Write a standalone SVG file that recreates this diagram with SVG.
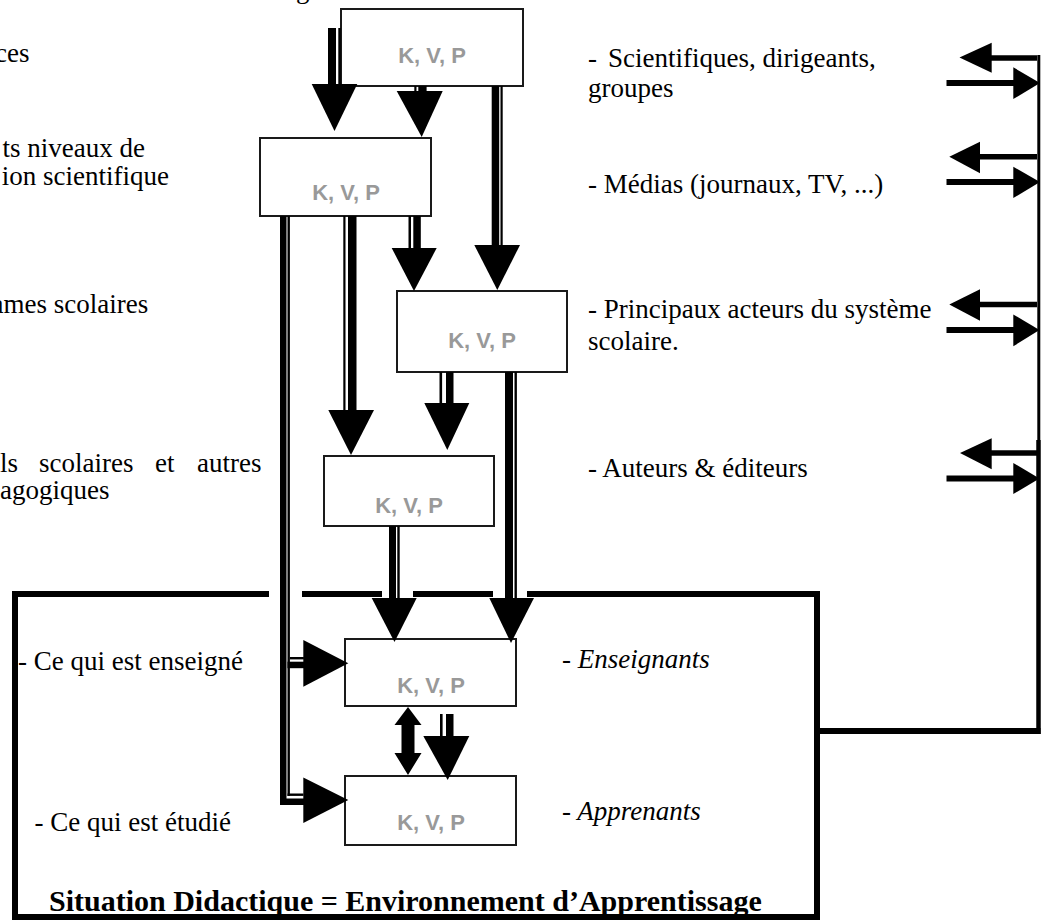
<svg xmlns="http://www.w3.org/2000/svg" width="1041" height="921" viewBox="0 0 1041 921">
<style>
.box{fill:#fff;stroke:#1a1a1a;stroke-width:2}
.kvp{font-family:"Liberation Sans",Arial,sans-serif;font-weight:bold;font-size:22px;fill:#999;text-anchor:middle}
.t{font-family:"Liberation Serif","Times New Roman",serif;font-size:27px;fill:#000}
.it{font-style:italic}
.title{font-family:"Liberation Serif","Times New Roman",serif;font-size:30px;font-weight:bold;fill:#000}
.frame{fill:none;stroke:#000;stroke-width:6;stroke-linejoin:miter}
.k{fill:#000}
.ln{stroke:#000;fill:none}
</style>
<rect width="1041" height="921" fill="#fff"/>

<g id="situation">
  <path class="frame" d="M269 594 H15 V917 H817 V594 H527"/>
  <path class="frame" d="M302 594 H382 M413 594 H493"/>
  <text class="title" x="49" y="911">Situation Didactique = Environnement d’Apprentissage</text>
</g>

<g id="labels-left">
  <text class="t" x="296" y="-2">g</text>
  <text class="t" x="-5" y="62">ces</text>
  <text class="t" x="2.5" y="157">ts niveaux de</text>
  <text class="t" x="1.8" y="185">ion scientifique</text>
  <text class="t" x="-8.4" y="313">ames scolaires</text>
  <text class="t" y="472"><tspan x="0">ls</tspan><tspan x="39">scolaires</tspan><tspan x="155">et</tspan><tspan x="197">autres</tspan></text>
  <text class="t" x="0" y="499">agogiques</text>
  <text class="t" x="18" y="670">- Ce qui est enseigné</text>
  <text class="t" x="34.5" y="831">- Ce qui est étudié</text>
</g>

<g id="labels-right">
  <text class="t" x="588" y="67">-<tspan dx="11">Scientifiques, dirigeants,</tspan></text>
  <text class="t" x="588" y="97">groupes</text>
  <text class="t" x="588" y="193">- Médias (journaux, TV, ...)</text>
  <text class="t" x="588" y="318">- Principaux acteurs du système</text>
  <text class="t" x="588" y="350">scolaire.</text>
  <text class="t" x="588" y="477">- Auteurs &amp; éditeurs</text>
  <text class="t it" x="562" y="668">- Enseignants</text>
  <text class="t it" x="562" y="820">- Apprenants</text>
</g>

<g id="box1"><rect class="box" x="341" y="9" width="182" height="77"/><text class="kvp" x="432" y="63">K, V, P</text></g>
<g id="box2"><rect class="box" x="260" y="138" width="171" height="78"/><text class="kvp" x="346" y="200">K, V, P</text></g>
<g id="box3"><rect class="box" x="397" y="291" width="170" height="81"/><text class="kvp" x="482" y="348">K, V, P</text></g>
<g id="box4"><rect class="box" x="324" y="456" width="170" height="70"/><text class="kvp" x="409" y="513">K, V, P</text></g>
<g id="box5"><rect class="box" x="345" y="639" width="171" height="67"/><text class="kvp" x="431" y="693">K, V, P</text></g>
<g id="box6"><rect class="box" x="345" y="776" width="171" height="69"/><text class="kvp" x="431" y="830">K, V, P</text></g>

<g id="connectors">
  <rect class="k" x="328" y="28" width="8" height="57"/><rect class="k" x="338.3" y="28" width="2.4" height="57"/>
  <polygon class="k" points="311.7,84 357.3,84 334.5,131"/>
  <rect class="k" x="414.3" y="86" width="2.2" height="6"/><rect class="k" x="418.3" y="86" width="8.3" height="6"/>
  <polygon class="k" points="396.7,91 442.7,91 421.7,137"/>
  <rect class="k" x="491.7" y="86" width="7.5" height="160"/><rect class="k" x="500.5" y="86" width="2.2" height="160"/>
  <polygon class="k" points="474.3,245 520,245 497.3,290"/>
  <rect class="k" x="280" y="216" width="6.5" height="589"/><rect class="k" x="287.5" y="216" width="2.4" height="580"/>
  <rect class="k" x="280" y="798.5" width="24" height="6.5"/><rect class="k" x="287.5" y="793.5" width="16" height="2.4"/>
  <rect class="k" x="289.9" y="657" width="14" height="2.4"/><rect class="k" x="287.5" y="661.7" width="16.5" height="6.5"/>
  <polygon class="k" points="303.3,640 303.3,686.7 348.3,663.3"/>
  <polygon class="k" points="303.3,777.5 303.3,823 348.3,800"/>
  <rect class="k" x="343.3" y="216" width="2.2" height="195"/><rect class="k" x="348" y="216" width="8.5" height="195"/>
  <polygon class="k" points="328.3,410 374,410 351,455"/>
  <rect class="k" x="408.5" y="216" width="2.5" height="33"/><rect class="k" x="413.3" y="216" width="7.5" height="33"/>
  <polygon class="k" points="391.7,248 436.7,248 414,291"/>
  <rect class="k" x="439.5" y="372" width="2.6" height="32"/><rect class="k" x="446" y="372" width="7.5" height="32"/>
  <polygon class="k" points="424.3,403 469.3,403 447.3,450"/>
  <rect class="k" x="505" y="372" width="8" height="227"/><rect class="k" x="514.5" y="372" width="2.4" height="227"/>
  <polygon class="k" points="489.3,598 534,598 511,643"/>
  <rect class="k" x="389" y="526" width="7" height="73"/><rect class="k" x="397.3" y="526" width="2.4" height="73"/>
  <polygon class="k" points="371.7,598 416.7,598 394.5,642"/>
  <rect class="k" x="440" y="714" width="2.6" height="23"/><rect class="k" x="446" y="714" width="7.5" height="23"/>
  <polygon class="k" points="423.3,736 469.3,736 447.7,780"/>
  <polygon class="k" points="408,707 421.5,725 414.5,725 414.5,753 421.5,753 408,775 394.5,753 401.5,753 401.5,725 394.5,725"/>

  <line class="ln" x1="817" y1="731" x2="1040.5" y2="731" stroke-width="6"/>
  <line class="ln" x1="1038.8" y1="55" x2="1038.8" y2="440" stroke-width="3"/>
  <line class="ln" x1="1038.5" y1="440" x2="1038.5" y2="734" stroke-width="4.5"/>
  <line class="ln" x1="1037" y1="58" x2="990" y2="58" stroke-width="5.5"/>
  <polygon class="k" points="991.7,42.7 991.7,72.7 959.5,57.5"/>
  <line class="ln" x1="946.5" y1="83" x2="1015" y2="83" stroke-width="6"/>
  <polygon class="k" points="1013.3,67.3 1013.3,99 1040,83"/>
  <line class="ln" x1="1037" y1="156.7" x2="978" y2="156.7" stroke-width="5.5"/>
  <polygon class="k" points="980,141.7 980,173.3 949.3,156.7"/>
  <line class="ln" x1="946.5" y1="182" x2="1015" y2="182" stroke-width="6"/>
  <polygon class="k" points="1013.3,166.7 1013.3,198 1040,182"/>
  <line class="ln" x1="1037" y1="304.5" x2="978" y2="304.5" stroke-width="5.5"/>
  <polygon class="k" points="980,289.3 980,320.7 949.3,304.5"/>
  <line class="ln" x1="946.5" y1="330" x2="1015" y2="330" stroke-width="6"/>
  <polygon class="k" points="1013.3,314.5 1013.3,346.3 1039.5,330"/>
  <line class="ln" x1="1037" y1="453" x2="990" y2="453" stroke-width="5.5"/>
  <polygon class="k" points="991.7,438.3 991.7,469.3 960,453"/>
  <line class="ln" x1="946.5" y1="478.5" x2="1015" y2="478.5" stroke-width="6"/>
  <polygon class="k" points="1013.3,463 1013.3,494 1039.5,478.5"/>
</g>
</svg>
